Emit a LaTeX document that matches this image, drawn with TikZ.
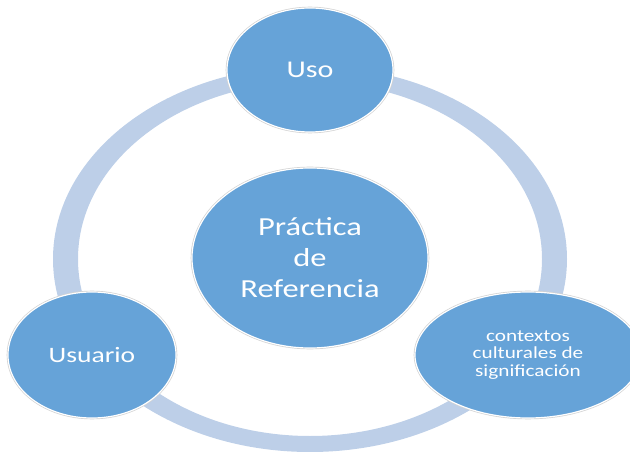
\documentclass[tikz,border=0pt]{standalone}
\usepackage{fontspec}
\usepackage{tikz}
\usetikzlibrary{shapes.geometric}
\newfontfamily\smartfont[FakeStretch=1.25]{Carlito}
\definecolor{bubblecolor}{RGB}{102,163,216}
\definecolor{ringcolor}{RGB}{189,207,232}

\tikzset{
  bubble/.style={ellipse, fill=bubblecolor, draw=white, line width=1pt,
    preaction={draw=gray!35, line width=2.2pt}, text=white, align=center,
    inner sep=0pt}
}

\begin{document}
\begin{tikzpicture}
  \useasboundingbox (0,0) rectangle (18.9,13.53);
  \clip (0,0) rectangle (18.9,13.53);

  \fill[ringcolor, even odd rule] (9.3,5.76) ellipse (7.71cm and 5.79cm)
    (9.3,5.76) ellipse (6.96cm and 5.31cm); % anillo

  \node[bubble, minimum width=4.98cm, minimum height=3.72cm,
    font=\smartfont\fontsize{20.5}{24}\selectfont] (uso) at (9.3,11.43) {Uso};
  \node[bubble, minimum width=7.08cm, minimum height=5.4cm,
    font=\smartfont\fontsize{22.2}{26.5}\selectfont] (practica) at (9.3,5.79)
    {Práctica\\ de\\ Referencia};
  \node[bubble, minimum width=5.04cm, minimum height=3.78cm,
    font=\smartfont\fontsize{18.8}{22}\selectfont] (usuario) at (2.76,2.88) {Usuario};
  \node[bubble, minimum width=6.78cm, minimum height=3.78cm,
    font=\smartfont\fontsize{14.5}{15}\selectfont] (contextos) at (15.84,2.88)
    {contextos\\ culturales de\\ significación};
\end{tikzpicture}
\end{document}
